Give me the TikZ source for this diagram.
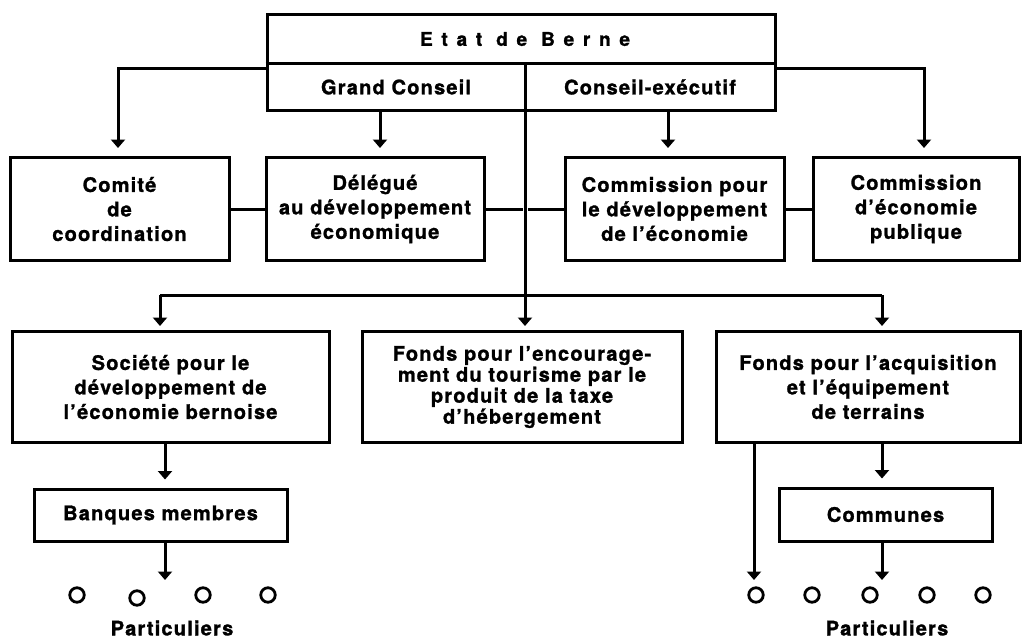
\documentclass[tikz,border=0pt]{standalone}
\usepackage{fontspec}
\setmainfont{TeX Gyre Heros}[LetterSpace=6,BoldFeatures={FakeBold=1.3}]
\usetikzlibrary{arrows.meta}
\begin{document}
\begin{tikzpicture}[x=1pt,y=-1pt,
  txt/.style={font=\fontsize{20}{24.5}\selectfont\bfseries},
  box/.style={draw, line width=3pt, inner sep=0pt, align=center, txt},
  lbl/.style={inner sep=0pt, align=center, txt},
  conn/.style={line width=3pt},
  arr/.style={line width=3pt, -{Triangle[width=14pt,length=8.5pt]}},
  circ/.style={circle, draw, line width=2.8pt, minimum size=14.5pt, inner sep=0pt}]
\useasboundingbox (0,0) rectangle (1022,638);

% top box
\node[box, minimum width=508pt, minimum height=96pt] (state) at (521,62) {};
\coordinate (div) at (525,63);
\draw[conn] (state.west |- div) -- (state.east |- div);
\node[lbl, font=\fontsize{19}{22}\selectfont\bfseries\addfontfeature{LetterSpace=46}] (etat) at (525,39) {Etat de Berne};
\node[lbl] (gc) at (396,87) {Grand Conseil};
\node[lbl] (ce) at (650,87) {Conseil-exécutif};

% row 2
\node[box, minimum width=219pt, minimum height=103pt] (comite) at (119.5,209) {Comité\\de\\coordination};
\node[box, minimum width=218pt, minimum height=103pt] (delegue) at (375,209) {Délégué\\au développement\\économique};
\node[box, minimum width=219pt, minimum height=103pt] (commdev) at (674.5,209) {Commission pour\\le développement\\de l’économie};
\node[box, minimum width=206pt, minimum height=103pt] (commpub) at (916,209) {Commission\\d’économie\\publique};

% row 3
\node[box, minimum width=317pt, minimum height=111pt] (societe) at (170.5,387) {Société pour le\\développement de\\l’économie bernoise};
\node[box, minimum width=320pt, minimum height=111pt, font=\fontsize{20}{21}\selectfont\bfseries] (tourisme) at (522,387) {Fonds pour l’encourage-\\ment du tourisme par le\\produit de la taxe\\d’hébergement};
\node[box, minimum width=304pt, minimum height=111pt] (fonds) at (868,387) {Fonds pour l’acquisition\\et l’équipement\\de terrains};

% row 4
\node[box, minimum width=253pt, minimum height=52pt] (banques) at (160.5,515) {Banques membres};
\node[box, minimum width=213pt, minimum height=53pt] (communes) at (885.5,514.5) {Communes};

% top connectors
\coordinate (lb) at (118,68);
\coordinate (rb) at (924,68);
\draw[arr, shorten >=8pt] (state.west |- lb) -- (lb) -- (lb |- comite.north);
\draw[arr, shorten >=8pt] (state.east |- rb) -- (rb) -- (rb |- commpub.north);
\coordinate (gcs) at (380,110);
\coordinate (ces) at (668,110);
\draw[arr, shorten >=8pt] (gcs) -- (gcs |- delegue.north);
\draw[arr, shorten >=8pt] (ces) -- (ces |- commdev.north);

% row 2 horizontal links
\draw[conn] (comite.east) -- (delegue.west);
\draw[conn] (delegue.east) -- ++(37,0);
\draw[conn] (commdev.west) -- ++(-36,0);
\draw[conn] (commdev.east) -- (commpub.west);

% trunk and bus
\coordinate (bl) at (160,295);
\coordinate (br) at (882,295);
\draw[arr, shorten >=4pt] (div) -- (div |- tourisme.north);
\draw[conn] (bl) -- (br);
\draw[arr, shorten >=4pt] (bl) -- (bl |- societe.north);
\draw[arr, shorten >=4pt] (br) -- (br |- fonds.north);

% left bottom
\coordinate (sbx) at (165,580);
\draw[arr, shorten >=8pt] (societe.south -| sbx) -- (sbx |- banques.north);
\draw[arr] (banques.south -| sbx) -- (sbx);
\node[circ] (l1) at (77,595) {};
\node[circ] (l2) at (137,598) {};
\node[circ] (l3) at (203,595) {};
\node[circ] (l4) at (268,595) {};
\node[lbl] (partl) at (172,628) {Particuliers};

% right bottom
\coordinate (fl) at (754,580);
\coordinate (fc) at (882,580);
\draw[arr] (fonds.south -| fl) -- (fl);
\draw[arr, shorten >=8pt] (fonds.south -| fc) -- (fc |- communes.north);
\draw[arr] (communes.south -| fc) -- (fc);
\node[circ] (r1) at (756,595) {};
\node[circ] (r2) at (812,595) {};
\node[circ] (r3) at (870,595) {};
\node[circ] (r4) at (927,595) {};
\node[circ] (r5) at (983,595) {};
\node[lbl] (partr) at (887,628) {Particuliers};
\end{tikzpicture}
\end{document}
